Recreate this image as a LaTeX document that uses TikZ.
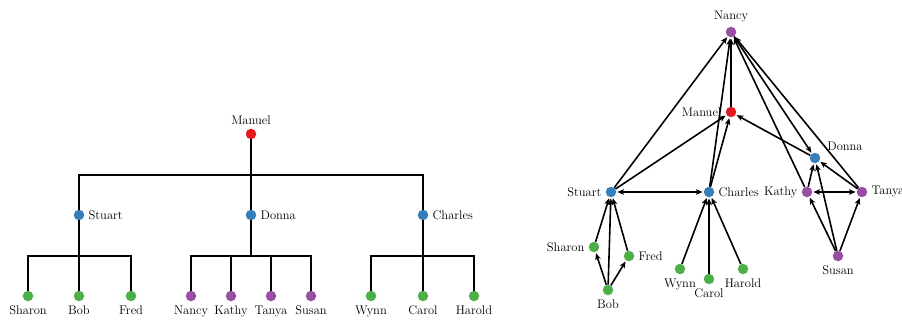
\documentclass[tikz,border=0pt]{standalone}
\usetikzlibrary{arrows.meta,calc}
\definecolor{cred}{HTML}{E41A1C}
\definecolor{cblue}{HTML}{377EB8}
\definecolor{cgreen}{HTML}{4DAF4A}
\definecolor{cpurple}{HTML}{984EA3}
\begin{document}
\begin{tikzpicture}[x=1pt,y=-1pt,
  font=\fontsize{12.5}{15}\selectfont,
  dot/.style={circle,inner sep=0pt,minimum size=10.5pt},
  rdot/.style={dot,fill=cred},
  bdot/.style={dot,fill=cblue},
  gdot/.style={dot,fill=cgreen},
  pdot/.style={dot,fill=cpurple},
  lbl/.style={inner sep=1pt,text=black},
  every label/.style={lbl},
  label distance=3pt,
  treeline/.style={draw=black,line width=2pt},
  arr/.style={draw=black,line width=1.6pt,-{Stealth[length=6.5pt,width=5.5pt,inset=1.5pt]},shorten >=1pt},
  barr/.style={draw=black,line width=1.6pt,{Stealth[length=6.5pt,width=5.5pt,inset=1.5pt]}-{Stealth[length=6.5pt,width=5.5pt,inset=1.5pt]},shorten >=1pt,shorten <=1pt}
]
\useasboundingbox (0,0) rectangle (902,321);

% ---------------- left tree ----------------
\node[rdot,label=above:Manuel] (tM) at (251,134) {};
\node[bdot,label=right:Stuart] (tS) at (79,215) {};
\node[bdot,label=right:Donna] (tD) at (251,215) {};
\node[bdot,label=right:Charles] (tC) at (423,215) {};
\node[gdot,label=below:Sharon] (tSh) at (28,296) {};
\node[gdot,label=below:Bob] (tB) at (79,296) {};
\node[gdot,label=below:Fred] (tF) at (131,296) {};
\node[pdot,label=below:Nancy] (tN) at (191,296) {};
\node[pdot,label=below:Kathy] (tK) at (231,296) {};
\node[pdot,label=below:Tanya] (tT) at (271,296) {};
\node[pdot,label=below:Susan] (tSu) at (311,296) {};
\node[gdot,label=below:Wynn] (tW) at (371,296) {};
\node[gdot,label=below:Carol] (tCa) at (423,296) {};
\node[gdot,label=below:Harold] (tH) at (474,296) {};

\foreach \p/\c in {tM/tS,tM/tD,tM/tC,tS/tSh,tS/tB,tS/tF,tD/tN,tD/tK,tD/tT,tD/tSu,tC/tW,tC/tCa,tC/tH}
  \draw[treeline] (\p) |- ($(\p)!.5!(\c)$) -| (\c);

% ---------------- right graph ----------------
\node[pdot,label=above:Nancy] (gN) at (731,32) {};
\node[rdot,label=left:Manuel] (gM) at (731,112) {};
\node[bdot] (gD) at (815,158) {};
\node[lbl] (gDl) at (845,146) {Donna};
\node[bdot,label=left:Stuart] (gS) at (611,192) {};
\node[bdot,label=right:Charles] (gC) at (709,192) {};
\node[pdot,label=left:Kathy] (gK) at (807,192) {};
\node[pdot,label=right:Tanya] (gT) at (862,192) {};
\node[gdot,label=left:Sharon] (gSh) at (594,247) {};
\node[gdot,label=right:Fred] (gF) at (629,256) {};
\node[gdot,label=below:Bob] (gB) at (608,290) {};
\node[gdot,label=below:Wynn] (gW) at (680,269) {};
\node[gdot,label=below:Carol] (gCa) at (709,279) {};
\node[gdot,label=below:Harold] (gH) at (743,269) {};
\node[pdot,label=below:Susan] (gSu) at (838,256) {};

\foreach \a/\b in {gS/gN,gS/gM,gC/gN,gC/gM,gM/gN,gD/gM,gN/gD,gK/gN,gT/gN,gK/gD,gT/gD,
                   gSu/gK,gSu/gT,gSu/gD,gSh/gS,gB/gS,gF/gS,gB/gSh,gB/gF,gW/gC,gCa/gC,gH/gC}
  \draw[arr] (\a) -- (\b);
\draw[barr] (gS) -- (gC);
\draw[barr] (gK) -- (gT);
\end{tikzpicture}
\end{document}
